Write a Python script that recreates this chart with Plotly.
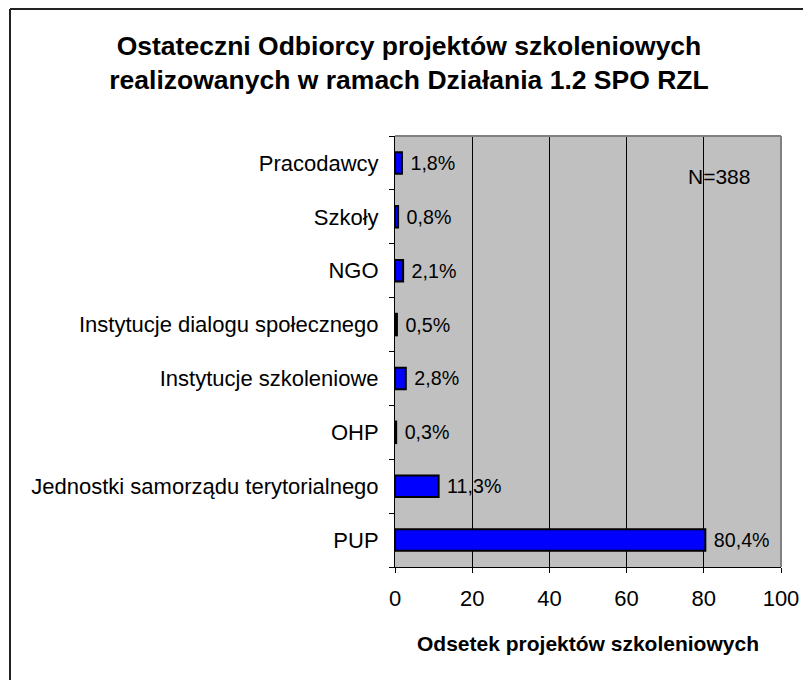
import plotly.graph_objects as go

# categories listed bottom-up (first one is drawn at the bottom)
categories = ["PUP", "Jednostki samorządu terytorialnego", "OHP", "Instytucje szkoleniowe",
              "Instytucje dialogu społecznego", "NGO", "Szkoły", "Pracodawcy"]
values = [80.4, 11.3, 0.3, 2.8, 0.5, 2.1, 0.8, 1.8]
x_ticks = [0, 20, 40, 60, 80, 100]
n_label = "N=388"

labels = ["\u00a0" + f"{v:.1f}".replace(".", ",") + "%" for v in values]

# page has an 8px body margin, so the figure is a bit smaller than the window
OFF = 8
W, H = 811 - OFF, 680 - OFF
L, R, T, B = 395 - OFF, 30, 136 - OFF, 113
pw, ph = W - L - R, H - T - B


def px_x(p):
    return (p - OFF - L) / pw


def px_y(p):
    return 1 - (p - OFF - T) / ph


FONT = "Liberation Sans, Arial"

fig = go.Figure()
fig.add_trace(go.Bar(
    y=categories, x=values, orientation="h",
    marker=dict(color="#0000FF", line=dict(color="black", width=2)),
    width=0.4,
    text=labels, textposition="outside", cliponaxis=False,
    textfont=dict(family=FONT, size=21, color="black"),
))

fig.update_layout(
    width=W, height=H,
    margin=dict(l=L, r=R, t=T, b=B),
    plot_bgcolor="#C0C0C0", paper_bgcolor="white",
    showlegend=False,
    font=dict(family=FONT, size=21, color="black"),
    title=dict(
        text="<b>Ostateczni Odbiorcy projektów szkoleniowych<br>realizowanych w ramach Działania 1.2 SPO RZL</b>",
        x=(409 - OFF) / W, xref="container", xanchor="center",
        y=1 - (55 - OFF) / H, yref="container", yanchor="middle",
        font=dict(size=26.5, family=FONT),
    ),
    xaxis=dict(
        range=[0, 100], tickvals=x_ticks, ticks="outside", ticklen=5, tickcolor="black",
        showline=True, linecolor="black", linewidth=1,
        showgrid=True, gridcolor="black", gridwidth=1, zeroline=False,
        tickfont=dict(size=22), ticklabelstandoff=7,
        title=dict(text="<b>Odsetek projektów szkoleniowych</b>", font=dict(size=21), standoff=25),
    ),
    yaxis=dict(
        ticks="outside", ticklen=5, tickcolor="black", tickson="boundaries",
        showline=True, linecolor="black", linewidth=1,
        showgrid=False, zeroline=False,
        tickfont=dict(size=22), ticklabelstandoff=11,
    ),
    bargap=0.6,
)

# plot-area border on top and right (gray)
fig.add_shape(type="line", xref="paper", yref="paper", x0=0, x1=1, y0=1, y1=1,
              line=dict(color="#808080", width=2))
fig.add_shape(type="line", xref="paper", yref="paper", x0=1, x1=1, y0=0, y1=1,
              line=dict(color="#808080", width=2))

# outer chart frame (top and left visible)
fig.add_shape(type="line", xref="paper", yref="paper", x0=px_x(10), x1=px_x(830),
              y0=px_y(9), y1=px_y(9), line=dict(color="#222222", width=2))
fig.add_shape(type="line", xref="paper", yref="paper", x0=px_x(10), x1=px_x(10),
              y0=px_y(9), y1=px_y(700), line=dict(color="#222222", width=2))

fig.add_annotation(text=n_label, xref="x", yref="paper", x=83.9, y=px_y(177),
                   showarrow=False, font=dict(size=21), xanchor="center", yanchor="middle")

fig.write_html("out.html")
